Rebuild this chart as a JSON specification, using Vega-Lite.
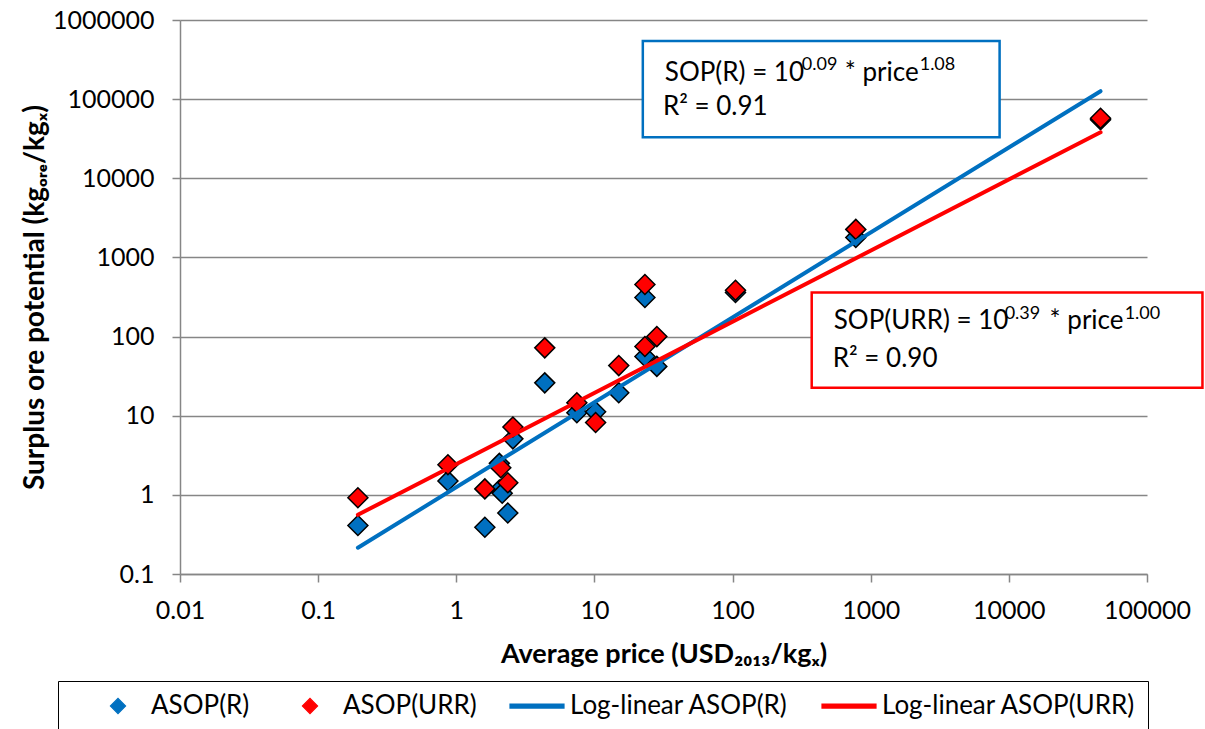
{
  "$schema": "https://vega.github.io/schema/vega-lite/v6.json",
  "width": 967,
  "height": 554,
  "autosize": "none",
  "padding": {"left": 180, "top": 20, "right": 58, "bottom": 155},
  "background": "white",
  "config": {
    "view": {"stroke": null},
    "font": "Lato",
    "axis": {"labelFont": "Lato", "titleFont": "Lato"}
  },
  "encoding": {
    "x": {
      "field": "price",
      "type": "quantitative",
      "scale": {"type": "log", "domain": [0.01, 100000], "nice": false},
      "axis": {
        "title": "Average price (USD₂₀₁₃/kgₓ)",
        "values": [0.01, 0.1, 1, 10, 100, 1000, 10000, 100000],
        "format": "~f",
        "grid": false,
        "tickSize": 8,
        "tickWidth": 1.5,
        "tickColor": "#868686",
        "domainColor": "#868686",
        "domainWidth": 1.5,
        "labelFontSize": 25,
        "labelColor": "black",
        "labelPadding": 16,
        "labelFlush": false,
        "labelOverlap": false,
        "titleFontSize": 27,
        "titleFontWeight": "bold",
        "titleColor": "black",
        "titlePadding": 18
      }
    },
    "y": {
      "field": "sop",
      "type": "quantitative",
      "scale": {"type": "log", "domain": [0.1, 1000000], "nice": false},
      "axis": {
        "title": "Surplus ore potential (kgₒᵣₑ/kgₓ)",
        "values": [0.1, 1, 10, 100, 1000, 10000, 100000, 1000000],
        "format": "~f",
        "grid": true,
        "gridColor": "#868686",
        "gridWidth": 1.5,
        "tickSize": 8,
        "tickWidth": 1.5,
        "tickColor": "#868686",
        "domainColor": "#868686",
        "domainWidth": 1.5,
        "labelFontSize": 25,
        "labelColor": "black",
        "labelPadding": 18,
        "labelFlush": false,
        "labelOverlap": false,
        "titleFontSize": 28,
        "titleFontWeight": "bold",
        "titleColor": "black",
        "titlePadding": 3
      }
    }
  },
  "layer": [
    {
      "data": {
        "values": [
          {"series": "ASOP(R)", "price": 0.194, "sop": 0.41},
          {"series": "ASOP(R)", "price": 0.87, "sop": 1.5},
          {"series": "ASOP(R)", "price": 1.61, "sop": 0.39},
          {"series": "ASOP(R)", "price": 2.05, "sop": 2.5},
          {"series": "ASOP(R)", "price": 2.05, "sop": 1.15},
          {"series": "ASOP(R)", "price": 2.15, "sop": 1.05},
          {"series": "ASOP(R)", "price": 2.36, "sop": 0.59},
          {"series": "ASOP(R)", "price": 2.57, "sop": 5.1},
          {"series": "ASOP(R)", "price": 4.37, "sop": 26},
          {"series": "ASOP(R)", "price": 7.46, "sop": 10.9},
          {"series": "ASOP(R)", "price": 10.2, "sop": 11.2},
          {"series": "ASOP(R)", "price": 15, "sop": 19.5},
          {"series": "ASOP(R)", "price": 23.2, "sop": 56},
          {"series": "ASOP(R)", "price": 23.2, "sop": 312},
          {"series": "ASOP(R)", "price": 28.3, "sop": 42},
          {"series": "ASOP(R)", "price": 105, "sop": 360},
          {"series": "ASOP(R)", "price": 780, "sop": 1790},
          {"series": "ASOP(R)", "price": 46100, "sop": 55000},
          {"series": "ASOP(URR)", "price": 0.194, "sop": 0.92},
          {"series": "ASOP(URR)", "price": 0.87, "sop": 2.4},
          {"series": "ASOP(URR)", "price": 1.61, "sop": 1.19},
          {"series": "ASOP(URR)", "price": 2.1, "sop": 2.2},
          {"series": "ASOP(URR)", "price": 2.36, "sop": 1.42},
          {"series": "ASOP(URR)", "price": 2.57, "sop": 7.2},
          {"series": "ASOP(URR)", "price": 4.37, "sop": 72},
          {"series": "ASOP(URR)", "price": 7.46, "sop": 14.6},
          {"series": "ASOP(URR)", "price": 10.2, "sop": 8.2},
          {"series": "ASOP(URR)", "price": 15, "sop": 43},
          {"series": "ASOP(URR)", "price": 23.2, "sop": 75},
          {"series": "ASOP(URR)", "price": 23.2, "sop": 455},
          {"series": "ASOP(URR)", "price": 28.3, "sop": 100},
          {"series": "ASOP(URR)", "price": 105, "sop": 385},
          {"series": "ASOP(URR)", "price": 780, "sop": 2260},
          {"series": "ASOP(URR)", "price": 46100, "sop": 57400}
        ]
      },
      "mark": {"type": "point", "filled": true, "size": 5100, "stroke": "black", "strokeWidth": 1.5, "opacity": 1},
      "encoding": {
        "shape": {
          "field": "series",
          "type": "nominal",
          "scale": {
            "domain": ["ASOP(R)", "ASOP(URR)", "Log-linear ASOP(R)", "Log-linear ASOP(URR)"],
            "range": ["M-0.28,0L0,-0.28L0.28,0L0,0.28Z", "M-0.28,0L0,-0.28L0.28,0L0,0.28Z", "M-1,-0.075L1,-0.075L1,0.075L-1,0.075Z", "M-1,-0.075L1,-0.075L1,0.075L-1,0.075Z"]
          }
        },
        "color": {
          "field": "series",
          "type": "nominal",
          "scale": {
            "domain": ["ASOP(R)", "ASOP(URR)", "Log-linear ASOP(R)", "Log-linear ASOP(URR)"],
            "range": ["#0070C0", "#FF0000", "#0070C0", "#FF0000"]
          },
          "legend": {
            "title": null,
            "orient": "none",
            "legendX": -122,
            "legendY": 661,
            "direction": "horizontal",
            "columns": 4,
            "strokeColor": "black",
            "padding": 12,
            "symbolSize": 2916,
            "symbolStrokeWidth": 1.2,
            "symbolOffset": 20,
            "labelOffset": 5,
            "columnPadding": 12,
            "clipHeight": 26,
            "labelFont": "Lato",
            "labelFontSize": 26,
            "labelColor": "black",
            "labelLimit": 400,
            "encode": {
              "symbols": {
                "stroke": {
                  "condition": {"test": "indexof(datum.value, 'Log') === 0", "value": "transparent"},
                  "value": "black"
                }
              }
            }
          }
        }
      }
    },
    {
      "data": {
        "values": [
          {"series": "Log-linear ASOP(R)", "price": 0.194, "sop": 0.215},
          {"series": "Log-linear ASOP(R)", "price": 46100, "sop": 126000},
          {"series": "Log-linear ASOP(URR)", "price": 0.194, "sop": 0.56},
          {"series": "Log-linear ASOP(URR)", "price": 46100, "sop": 38200}
        ]
      },
      "mark": {"type": "line", "strokeWidth": 4, "strokeCap": "round"},
      "encoding": {
        "color": {"field": "series", "type": "nominal", "legend": null},
        "detail": {"field": "series"}
      }
    },
    {
      "data": {"values": [{"price": 22.4, "price2": 8570, "sop": 33000, "sop2": 542000}]},
      "mark": {"type": "rect", "fill": "white", "stroke": "#0070C0", "strokeWidth": 2.5},
      "encoding": {"x2": {"field": "price2"}, "y2": {"field": "sop2"}}
    },
    {
      "data": {"values": [{"price": 374, "price2": 252000, "sop": 22.6, "sop2": 361}]},
      "mark": {"type": "rect", "fill": "white", "stroke": "#FF0000", "strokeWidth": 2.5},
      "encoding": {"x2": {"field": "price2"}, "y2": {"field": "sop2"}}
    },
    {
      "data": {
        "values": [
          {"price": 32.3, "sop": 169000, "text": "SOP(R) = 10"},
          {"price": 649, "sop": 169000, "text": "* price"},
          {"price": 31.3, "sop": 62700, "text": "R² = 0.91"},
          {"price": 540, "sop": 123, "text": "SOP(URR) = 10"},
          {"price": 19720, "sop": 123, "text": "* price"},
          {"price": 531, "sop": 41.7, "text": "R² = 0.90"}
        ]
      },
      "mark": {"type": "text", "align": "left", "baseline": "alphabetic", "font": "Lato", "fontSize": 26, "color": "black"},
      "encoding": {"text": {"field": "text"}}
    },
    {
      "data": {
        "values": [
          {"price": 317, "sop": 235000, "text": "0.09"},
          {"price": 2262, "sop": 235000, "text": "1.08"},
          {"price": 9325, "sop": 166, "text": "0.39"},
          {"price": 68900, "sop": 166, "text": "1.00"}
        ]
      },
      "mark": {"type": "text", "align": "left", "baseline": "alphabetic", "font": "Lato", "fontSize": 18, "color": "black"},
      "encoding": {"text": {"field": "text"}}
    }
  ]
}
